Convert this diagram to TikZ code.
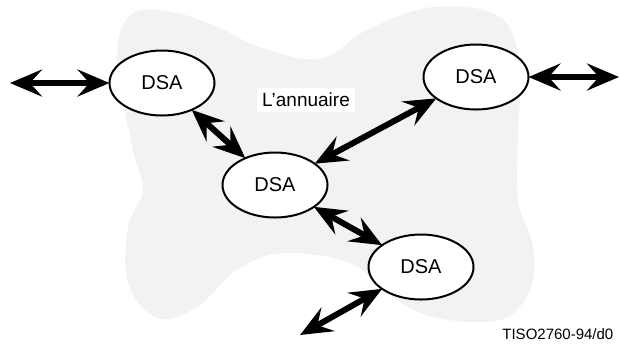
\documentclass[tikz,border=0pt]{standalone}
\usepackage{fontspec}
\setmainfont{Liberation Sans}
\usetikzlibrary{arrows.meta,shapes.geometric}
\definecolor{nuage}{RGB}{242,242,242}
\tikzset{
  dsa/.style={draw,ellipse,line width=1pt,fill=white,outer sep=0pt,
    minimum width=52.5pt,minimum height=32.5pt,font=\fontsize{10}{12}\selectfont},
  lien/.style={line width=3pt,
    {Stealth[length=16pt,width=13.5pt,inset=6pt]}-{Stealth[length=16pt,width=13.5pt,inset=6pt]}}
}
\begin{document}
\begin{tikzpicture}[x=0.5pt,y=-0.5pt]
    \useasboundingbox (0,0) rectangle (619,345) ;
    %% l'annuaire (fond gris)
    \fill[nuage] plot[smooth cycle,tension=0.6] coordinates {
      (130,15) (167,11) (213,25) (260,47) (320,59) (367,30) (433,7) (500,17)
      (520,67) (518,133) (518,200) (533,247) (530,290) (500,320) (433,317)
      (387,293) (350,263) (283,253) (237,270) (197,307) (157,318) (128,283)
      (128,227) (143,190) (133,150) (117,60) } ;
    \node[fill=white,inner sep=2.5pt,font=\fontsize{9.5}{11}\selectfont] (nom) at (306,100) {L'annuaire} ;
    \node[dsa] (gauche) at (162,83) {DSA} ;
    \node[dsa] (droite) at (476,77) {DSA} ;
    \node[dsa] (centre) at (275,185) {DSA} ;
    \node[dsa] (bas) at (421,267) {DSA} ;
    \coordinate (extg) at (10,83) ;
    \coordinate (extd) at (619,77) ;
    \coordinate (extb) at (300,335) ;
    \draw[lien] (extg) -- (gauche) ;
    \draw[lien] (droite) -- (extd) ;
    \draw[lien] (gauche) -- (centre) ;
    \draw[lien] (centre) -- (droite) ;
    \draw[lien] (centre) -- (bas) ;
    \draw[lien] (bas) -- (extb) ;
    \node[anchor=base west,inner sep=0pt,font=\fontsize{7.5}{9}\selectfont] (ref) at (502,339) {TISO2760-94/d0} ;
\end{tikzpicture}
\end{document}
